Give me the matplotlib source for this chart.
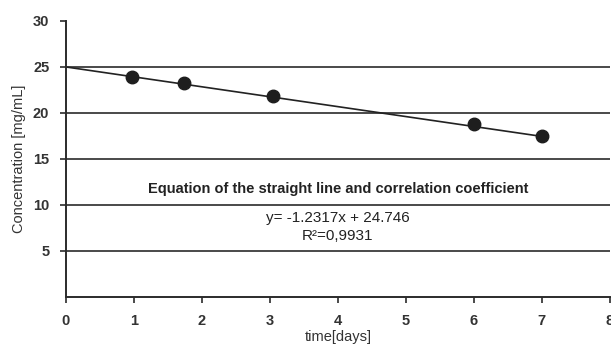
import matplotlib
matplotlib.use("Agg")
import matplotlib.pyplot as plt

plt.rcParams['font.family'] = ['Liberation Sans', 'DejaVu Sans']

# measured points
tempo = [0.97, 1.74, 3.05, 6.0, 7.0]
concentracao = [23.95, 23.3, 21.85, 18.75, 17.5]

# trend line as drawn in the original
linha_x = [0, 7.0]
linha_y = [25.0, 17.45]

x_ticks = [0, 1, 2, 3, 4, 5, 6, 7, 8]
y_ticks = [5, 10, 15, 20, 25, 30]
grade_y = [5, 10, 15, 20, 25]

titulo_eq = "Equation of the straight line and correlation coefficient"
texto_eq = "y= -1.2317x + 24.746"
texto_r2 = "R²=0,9931"

cinza = '#2b2b2b'

fig = plt.figure(figsize=(6.11, 3.44), dpi=100)
ax = fig.add_axes([0.108, 0.137, 0.89, 0.802])

for g in grade_y:
    ax.axhline(g, color='#3a3a3a', linewidth=1.3, zorder=1)

ax.plot(linha_x, linha_y, color='#222222', linewidth=1.2, zorder=2)
ax.plot(tempo, concentracao, 'o', color='#1e1e1e', markersize=9, zorder=3)

ax.set_xlim(0, 8)
ax.set_ylim(0, 30)
ax.set_xticks(x_ticks)
ax.set_yticks(y_ticks)
ax.tick_params(axis='both', colors=cinza, length=4, width=1.2, labelsize=10.5)
ax.tick_params(axis='x', pad=8)
ax.tick_params(axis='y', pad=8)
for lab in ax.get_xticklabels() + ax.get_yticklabels():
    lab.set_fontweight('bold')
    lab.set_color('#333333')

for s in ['top', 'right']:
    ax.spines[s].set_visible(False)
for s in ['left', 'bottom']:
    ax.spines[s].set_color(cinza)
    ax.spines[s].set_linewidth(1.4)

ax.set_ylabel("Concentration [mg/mL]", fontsize=10.5, color='#333333', labelpad=5)
fig.text(0.553, 0.0, "time[days]", fontsize=10.5, color='#333333', ha='center', va='bottom')

ax.text(4, 11.7, titulo_eq, ha='center', va='center', fontsize=10.5,
        fontweight='bold', color='#222222')
ax.text(4, 8.6, texto_eq, ha='center', va='center', fontsize=11, color='#222222')
ax.text(4, 6.6, texto_r2, ha='center', va='center', fontsize=11, color='#222222')

fig.savefig("out.png", dpi=100)
